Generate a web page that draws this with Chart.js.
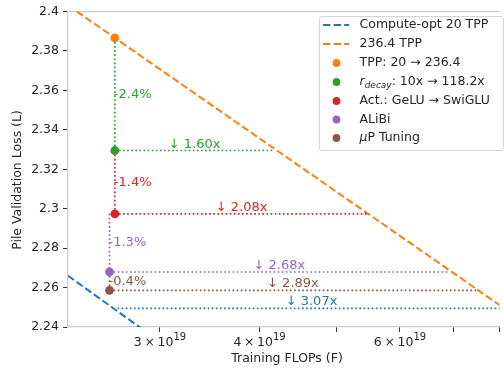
<!DOCTYPE html>
<html>
<head>
<meta charset="utf-8">
<script src="https://cdn.jsdelivr.net/npm/chart.js@4.4.1/dist/chart.umd.min.js"></script>
<style>
  html, body { margin: 0; padding: 0; background: #fff; }
  #wrap { width: 504px; height: 369px; }
</style>
</head>
<body>
<div id="wrap"><canvas id="chart" width="504" height="369"></canvas></div>
<script>
// values
const stepNames = ['TPP: 20 \u2192 236.4', 'r_decay: 10x \u2192 118.2x', 'Act.: GeLU \u2192 SwiGLU', 'ALiBi', '\u03bcP Tuning']
const stepColors = ['#ff7f0e', '#2ca02c', '#d62728', '#9467bd', '#8c564b']
const stepFlops = [2.633e19, 2.633e19, 2.633e19, 2.593e19, 2.593e19]
const stepLoss = [2.3866, 2.3295, 2.2974, 2.2679, 2.2586]
const stepChange = ['', '-2.4%', '-1.4%', '-1.3%', '-0.4%']

// where each horizontal speed-up line ends (on the 236.4 TPP line)
const speedupEnd = [0, 4.176e19, 5.477e19, 6.917e19, 7.48e19]
const speedupText = ['', '\u2193 1.60x', '\u2193 2.08x', '\u2193 2.68x', '\u2193 2.89x']

// compute-optimal reference
const optFlops = [2.3e19, 3.0e19]
const optLoss = [2.266, 2.2325]
const optLevel = 2.2494
const optSpan = [2.653e19, 8.14e19]
const optText = '\u2193 3.07x'

// 236.4 TPP line
const tppFlops = [2.3e19, 8.0e19]
const tppLoss = [2.4031, 2.2511]

const xTicks = [3e19, 4e19, 5e19, 6e19, 7e19, 8e19]
const xTickMant = ['3', '4', '', '6', '', '']
const yTicks = [2.24, 2.26, 2.28, 2.3, 2.32, 2.34, 2.36, 2.38, 2.4]

const FONT = 'DejaVu Sans'
const TXT = '#262626'
const SPINE = '#cccccc'
const DASH = [7.4, 3.2]
const DOT = [1.7, 2.4]

function pts(xs, ys) { return xs.map((x, i) => ({x: x, y: ys[i]})) }

const datasets = []
// points on top
stepNames.forEach((name, i) => {
    datasets.push({
        label: name,
        data: [{x: stepFlops[i], y: stepLoss[i]}],
        backgroundColor: stepColors[i],
        borderColor: stepColors[i],
        pointRadius: 4.4,
        pointBorderWidth: 0,
        showLine: false
    })
})
// vertical drops and horizontal speed-up lines
for (let i = 1; i < stepNames.length; i++) {
    datasets.push({
        data: [{x: stepFlops[i], y: stepLoss[i - 1]}, {x: stepFlops[i], y: stepLoss[i]}],
        borderColor: stepColors[i], borderWidth: 1.7, borderDash: DOT,
        pointRadius: 0, showLine: true
    })
    datasets.push({
        data: [{x: stepFlops[i], y: stepLoss[i]}, {x: speedupEnd[i], y: stepLoss[i]}],
        borderColor: stepColors[i], borderWidth: 1.7, borderDash: DOT,
        pointRadius: 0, showLine: true
    })
}
datasets.push({
    data: [{x: optSpan[0], y: optLevel}, {x: optSpan[1], y: optLevel}],
    borderColor: '#1f77b4', borderWidth: 1.7, borderDash: DOT,
    pointRadius: 0, showLine: true
})
datasets.push({
    label: 'Compute-opt 20 TPP',
    data: pts(optFlops, optLoss),
    borderColor: '#1f77b4', borderWidth: 2, borderDash: DASH,
    pointRadius: 0, showLine: true
})
datasets.push({
    label: '236.4 TPP',
    data: pts(tppFlops, tppLoss),
    borderColor: '#ff7f0e', borderWidth: 2, borderDash: DASH,
    pointRadius: 0, showLine: true
})

const annotate = {
    id: 'annotate',
    beforeDatasetsDraw(chart) {
        const {ctx, chartArea: a} = chart
        ctx.save()
        ctx.strokeStyle = SPINE
        ctx.lineWidth = 1.25
        ctx.beginPath()
        ctx.moveTo(a.left, a.top)
        ctx.lineTo(a.right, a.top)
        ctx.stroke()
        ctx.restore()
    },
    afterDatasetsDraw(chart) {
        const {ctx} = chart
        const xs = chart.scales.x, ys = chart.scales.y
        const f = (s, it) => (it ? 'italic ' : '') + s + 'px "' + FONT + '"'
        ctx.save()
        ctx.font = f(13)
        // percentage labels along the drops
        for (let i = 1; i < stepNames.length; i++) {
            ctx.fillStyle = stepColors[i]
            ctx.textAlign = 'left'
            ctx.textBaseline = 'middle'
            const px = xs.getPixelForValue(stepFlops[i])
            const py = ys.getPixelForValue((stepLoss[i - 1] + stepLoss[i]) / 2)
            ctx.fillText(stepChange[i], px - 1, py)
            // speed-up label at geometric centre of the horizontal line
            const mid = Math.sqrt(stepFlops[i] * speedupEnd[i])
            ctx.textAlign = 'center'
            ctx.textBaseline = 'alphabetic'
            ctx.fillText(speedupText[i], xs.getPixelForValue(mid), ys.getPixelForValue(stepLoss[i]) - 3)
        }
        ctx.fillStyle = '#1f77b4'
        ctx.fillText(optText, xs.getPixelForValue(Math.sqrt(optSpan[0] * optSpan[1])), ys.getPixelForValue(optLevel) - 3)

        // x tick labels with superscript exponent
        ctx.fillStyle = TXT
        ctx.textAlign = 'left'
        ctx.textBaseline = 'alphabetic'
        xTicks.forEach((v, i) => {
            if (!xTickMant[i]) return
            const parts = [xTickMant[i], '\u00d7', '10']
            const gap = 2.6
            ctx.font = f(12.5)
            const ws = parts.map(p => ctx.measureText(p).width)
            ctx.font = f(10)
            const we = ctx.measureText('19').width
            const total = ws[0] + ws[1] + ws[2] + 2 * gap + we
            let x = xs.getPixelForValue(v) - total / 2
            ctx.font = f(12.5)
            parts.forEach((p, k) => {
                ctx.fillText(p, x, 346)
                x += ws[k] + (k < 2 ? gap : 0)
            })
            ctx.font = f(10)
            ctx.fillText('19', x, 340)
        })

        // axis titles
        ctx.font = f(12.5)
        ctx.textAlign = 'center'
        ctx.textBaseline = 'middle'
        ctx.fillText('Training FLOPs (F)', 287, 359)
        ctx.save()
        ctx.translate(18, 180)
        ctx.rotate(-Math.PI / 2)
        ctx.fillText('Pile Validation Loss (L)', 0, 0)
        ctx.restore()

        // legend box
        const bx = 319, by = 16, bw = 184, bh = 134
        ctx.fillStyle = 'rgba(255,255,255,0.85)'
        ctx.strokeStyle = '#d4d4d4'
        ctx.lineWidth = 1
        ctx.beginPath()
        ctx.roundRect(bx + 0.5, by + 0.5, bw, bh, 2.5)
        ctx.fill()
        ctx.stroke()

        const rowY = [25, 44, 63, 82, 101, 119.5, 138]
        const textX = 359.5
        const lines = [['#1f77b4', 'Compute-opt 20 TPP'], ['#ff7f0e', '236.4 TPP']]
        ctx.textAlign = 'left'
        ctx.textBaseline = 'middle'
        lines.forEach((l, k) => {
            ctx.strokeStyle = l[0]
            ctx.lineWidth = 2
            ctx.setLineDash(DASH)
            ctx.beginPath()
            ctx.moveTo(323, rowY[k])
            ctx.lineTo(349, rowY[k])
            ctx.stroke()
            ctx.setLineDash([])
            ctx.fillStyle = TXT
            ctx.fillText(l[1], textX, rowY[k])
        })
        stepNames.forEach((name, i) => {
            const y = rowY[i + 2]
            ctx.fillStyle = stepColors[i]
            ctx.beginPath()
            ctx.arc(336.5, y, 3.9, 0, Math.PI * 2)
            ctx.fill()
            ctx.fillStyle = TXT
            if (name.startsWith('r_decay')) {
                ctx.font = f(12.5, true)
                ctx.fillText('r', textX, y)
                let x = textX + ctx.measureText('r').width
                ctx.font = f(9, true)
                ctx.fillText('decay', x, y + 3.5)
                x += ctx.measureText('decay').width
                ctx.font = f(12.5)
                ctx.fillText(name.slice(7), x, y)
            } else if (name.startsWith('\u03bc')) {
                ctx.font = f(12.5, true)
                ctx.fillText('\u03bc', textX, y)
                const x = textX + ctx.measureText('\u03bc').width
                ctx.font = f(12.5)
                ctx.fillText(name.slice(1), x, y)
            } else {
                ctx.font = f(12.5)
                ctx.fillText(name, textX, y)
            }
        })
        ctx.restore()
    }
}

const config = {
    type: 'scatter',
    data: {datasets: datasets},
    options: {
        responsive: false,
        animation: false,
        layout: {padding: {top: 10, right: 0, left: 0, bottom: 0}},
        plugins: {
            legend: {display: false},
            tooltip: {enabled: false}
        },
        scales: {
            x: {
                type: 'logarithmic',
                min: 2.3e19,
                max: 8.0e19,
                afterFit: scale => { scale.height = 42 },
                afterBuildTicks: scale => { scale.ticks = xTicks.map(v => ({value: v})) },
                ticks: {
                    autoSkip: false,
                    maxRotation: 0,
                    callback: () => ''
                },
                grid: {drawOnChartArea: false, tickLength: 5, tickColor: '#333', tickWidth: 1},
                border: {color: SPINE, width: 1.25}
            },
            y: {
                min: 2.24,
                max: 2.4,
                afterFit: scale => { scale.width = 68 },
                afterBuildTicks: scale => { scale.ticks = yTicks.map(v => ({value: v})) },
                ticks: {
                    padding: 4,
                    color: TXT,
                    font: {family: FONT, size: 12.5},
                    callback: v => String(Number(v.toFixed(2)))
                },
                grid: {drawOnChartArea: false, tickLength: 5, tickColor: '#333', tickWidth: 1},
                border: {color: SPINE, width: 1.25}
            }
        }
    },
    plugins: [annotate]
}

const mychart = new Chart(document.getElementById('chart'), config)
</script>
</body>
</html>
